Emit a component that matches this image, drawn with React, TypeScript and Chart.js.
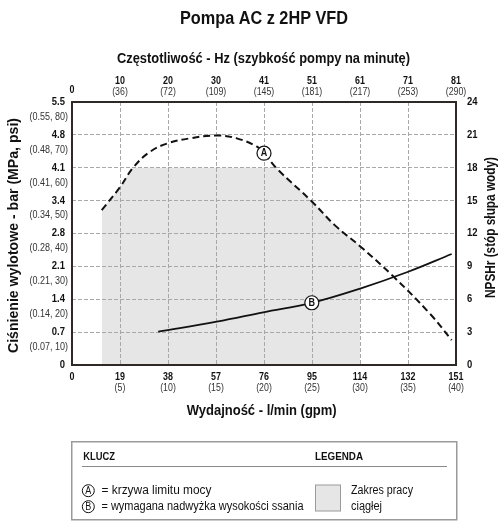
import React, { useEffect, useRef } from 'react';
import { Chart, registerables } from 'chart.js';

Chart.register(...registerables);

const FONT = '"Liberation Sans", Arial, sans-serif';

// Axis tick labels
const flowTicks = ['0', '19', '38', '57', '76', '95', '114', '132', '151'];
const gpmTicks = ['', '(5)', '(10)', '(15)', '(20)', '(25)', '(30)', '(35)', '(40)'];
const hzTicks = ['0', '10', '20', '30', '41', '51', '61', '71', '81'];
const rpmTicks = ['', '(36)', '(72)', '(109)', '(145)', '(181)', '(217)', '(253)', '(290)'];
const barTicks = ['0', '0.7', '1.4', '2.1', '2.8', '3.4', '4.1', '4.8', '5.5'];
const mpaPsiTicks = ['', '(0.07, 10)', '(0.14, 20)', '(0.21, 30)', '(0.28, 40)', '(0.34, 50)', '(0.41, 60)', '(0.48, 70)', '(0.55, 80)'];
const npshTicks = ['0', '3', '6', '9', '12', '15', '18', '21', '24'];

const FLOW_MAX = 151;
const BAR_MAX = 5.5;
const NPSH_MAX = 24;

// Curve A: power limit curve (flow l/min, pressure bar)
const powerFlow = [11.7, 18.9, 24.1, 30.7, 37.9, 46.4, 56.9, 64.8, 72.6, 75.5, 80.5, 94.3, 103.4, 113.6, 126.2, 140.8, 149.3];
const powerBar = [3.24, 3.72, 4.13, 4.46, 4.64, 4.74, 4.8, 4.74, 4.57, 4.43, 4.11, 3.42, 2.92, 2.47, 1.86, 1.07, 0.52];
const powerMarkerIndex = 9;

// Curve B: NPSHr (flow l/min, feet of water)
const npshFlow = [33.9, 56.9, 75.2, 94.3, 113.6, 132.2, 149.3];
const npshFt = [3.04, 3.95, 4.81, 5.68, 7.0, 8.51, 10.13];
const npshMarkerIndex = 3;

// Continuous duty region limits (tick indices)
const continuousMaxFlowTick = 6;
const continuousMaxBarTick = 6;

const TITLE = 'Pompa AC z 2HP VFD';
const TOP_TITLE = 'Częstotliwość - Hz (szybkość pompy na minutę)';
const BOTTOM_TITLE = 'Wydajność - l/min (gpm)';
const LEFT_TITLE = 'Ciśnienie wylotowe - bar (MPa, psi)';
const RIGHT_TITLE = 'NPSHr (stóp słupa wody)';
const KEY_HEAD = 'KLUCZ';
const LEGEND_HEAD = 'LEGENDA';
const KEY_A = '= krzywa limitu mocy';
const KEY_B = '= wymagana nadwyżka wysokości ssania';
const LEGEND_1 = 'Zakres pracy';
const LEGEND_2 = 'ciągłej';

const SHADE = '#e6e6e6';

function txt(
  ctx: CanvasRenderingContext2D,
  s: string,
  x: number,
  y: number,
  font: string,
  align: CanvasTextAlign = 'center',
  color = '#111',
  sx = 0.86,
  width?: number
) {
  ctx.save();
  ctx.font = font;
  ctx.fillStyle = color;
  ctx.textAlign = align;
  ctx.textBaseline = 'middle';
  const scale = width ? width / ctx.measureText(s).width : sx;
  ctx.translate(x, y);
  ctx.scale(scale, 1);
  ctx.fillText(s, 0, 0);
  ctx.restore();
}

function marker(ctx: CanvasRenderingContext2D, x: number, y: number, letter: string, r = 7) {
  ctx.save();
  ctx.beginPath();
  ctx.arc(x, y, r, 0, Math.PI * 2);
  ctx.fillStyle = '#fff';
  ctx.fill();
  ctx.lineWidth = 1.2;
  ctx.strokeStyle = '#111';
  ctx.stroke();
  txt(ctx, letter, x, y + 0.5, `bold 10px ${FONT}`, 'center', '#111', 0.9);
  ctx.restore();
}

const shadePlugin = {
  id: 'shade',
  beforeDraw(chart: any) {
    const meta = chart.getDatasetMeta(0);
    const line = meta.dataset;
    if (line && line.updateControlPoints) line.updateControlPoints(chart.chartArea, 'x');
    const pts = meta.data as any[];
    if (!pts.length) return;
    const ctx = chart.ctx as CanvasRenderingContext2D;
    const xs = chart.scales.x, ys = chart.scales.y;
    const bottom = chart.chartArea.bottom;
    const left = pts[0].x;
    const right = xs.getPixelForValue((continuousMaxFlowTick * FLOW_MAX) / 8);
    const top = ys.getPixelForValue((continuousMaxBarTick * BAR_MAX) / 8);
    ctx.save();
    ctx.beginPath();
    ctx.rect(left, top, right - left, bottom - top);
    ctx.clip();
    ctx.beginPath();
    ctx.moveTo(pts[0].x, pts[0].y);
    for (let i = 1; i < pts.length; i++) {
      const p = pts[i - 1], c = pts[i];
      if (p.cp2x !== undefined && c.cp1x !== undefined) ctx.bezierCurveTo(p.cp2x, p.cp2y, c.cp1x, c.cp1y, c.x, c.y);
      else ctx.lineTo(c.x, c.y);
    }
    ctx.lineTo(pts[pts.length - 1].x, bottom);
    ctx.lineTo(pts[0].x, bottom);
    ctx.closePath();
    ctx.fillStyle = SHADE;
    ctx.fill();
    ctx.restore();
  },
};

const decorPlugin = {
  id: 'decor',
  afterDraw(chart: any) {
    const ctx = chart.ctx as CanvasRenderingContext2D;
    const { left, right, top, bottom } = chart.chartArea;
    const xs = chart.scales.x, ys = chart.scales.y, y2 = chart.scales.y2;

    // frame
    ctx.save();
    ctx.strokeStyle = '#2e2926';
    ctx.lineWidth = 2;
    ctx.strokeRect(left, top, right - left, bottom - top);
    ctx.restore();

    // markers
    const mA = chart.getDatasetMeta(0).data[powerMarkerIndex];
    const mB = chart.getDatasetMeta(1).data[npshMarkerIndex];
    if (mA) marker(ctx, mA.x, mA.y, 'A');
    if (mB) marker(ctx, mB.x, mB.y, 'B');

    const bold = `bold 10.5px ${FONT}`;
    const reg = `10px ${FONT}`;

    for (let i = 0; i < 9; i++) {
      const px = xs.getPixelForValue((i * FLOW_MAX) / 8);
      txt(ctx, flowTicks[i], px, bottom + 12, bold, 'center', '#111', 0.85);
      if (gpmTicks[i]) txt(ctx, gpmTicks[i], px, bottom + 23, reg, 'center', '#333', 0.88);
      if (rpmTicks[i]) {
        txt(ctx, hzTicks[i], px, top - 21, bold, 'center', '#111', 0.85);
        txt(ctx, rpmTicks[i], px, top - 10, reg, 'center', '#333', 0.88);
      } else {
        txt(ctx, hzTicks[i], px, top - 12, bold, 'center', '#111', 0.85);
      }
      const py = ys.getPixelForValue((i * BAR_MAX) / 8);
      txt(ctx, barTicks[i], left - 7, py, bold, 'right', '#111', 0.9);
      if (mpaPsiTicks[i]) txt(ctx, mpaPsiTicks[i], left - 4, py + 15, reg, 'right', '#333', 0.9);
      const py2 = y2.getPixelForValue((i * NPSH_MAX) / 8);
      txt(ctx, npshTicks[i], right + 11, py2, bold, 'left', '#111', 0.9);
    }

    // titles
    txt(ctx, TITLE, 264, 19, `bold 18px ${FONT}`, 'center', '#111', 0, 168);
    txt(ctx, TOP_TITLE, 263.5, 59.5, `bold 14px ${FONT}`, 'center', '#111', 0, 293);
    txt(ctx, BOTTOM_TITLE, 261.7, 411.5, `bold 14px ${FONT}`, 'center', '#111', 0, 150);
    ctx.save();
    ctx.translate(13.5, 235.5);
    ctx.rotate(-Math.PI / 2);
    txt(ctx, LEFT_TITLE, 0, 0, `bold 15px ${FONT}`, 'center', '#111', 0, 235);
    ctx.restore();
    ctx.save();
    ctx.translate(491.5, 227.5);
    ctx.rotate(-Math.PI / 2);
    txt(ctx, RIGHT_TITLE, 0, 0, `bold 14px ${FONT}`, 'center', '#111', 0, 141);
    ctx.restore();

    // key / legend box
    ctx.save();
    ctx.strokeStyle = '#9a9a9a';
    ctx.lineWidth = 1.5;
    ctx.strokeRect(71.75, 441.75, 385, 78);
    ctx.lineWidth = 1;
    ctx.strokeStyle = '#8a8a8a';
    ctx.beginPath();
    ctx.moveTo(82, 466.5);
    ctx.lineTo(447, 466.5);
    ctx.stroke();
    txt(ctx, KEY_HEAD, 83.3, 457, `bold 11px ${FONT}`, 'left', '#111', 0, 31.7);
    txt(ctx, LEGEND_HEAD, 315, 457, `bold 11px ${FONT}`, 'left', '#111', 0, 48);
    ctx.strokeStyle = '#111';
    ctx.lineWidth = 1;
    ctx.beginPath();
    ctx.arc(88.3, 490.7, 6, 0, Math.PI * 2);
    ctx.stroke();
    txt(ctx, 'A', 88.3, 491.2, `10px ${FONT}`, 'center', '#111', 0.9);
    ctx.beginPath();
    ctx.arc(88.3, 506.7, 6, 0, Math.PI * 2);
    ctx.stroke();
    txt(ctx, 'B', 88.3, 507.2, `10px ${FONT}`, 'center', '#111', 0.9);
    txt(ctx, KEY_A, 101.5, 490.7, `12px ${FONT}`, 'left', '#111', 0, 110);
    txt(ctx, KEY_B, 101.5, 506.7, `12px ${FONT}`, 'left', '#111', 0, 202);
    ctx.fillStyle = SHADE;
    ctx.fillRect(315.5, 485, 25, 26);
    ctx.strokeStyle = '#9a9a9a';
    ctx.strokeRect(315.5, 485, 25, 26);
    txt(ctx, LEGEND_1, 351, 490.7, `12px ${FONT}`, 'left', '#111', 0, 62);
    txt(ctx, LEGEND_2, 351, 506.7, `12px ${FONT}`, 'left', '#111', 0, 31);
    ctx.restore();
  },
};

const gridOpts = { color: '#a8a8a8', lineWidth: 1, drawTicks: false };

export default function App() {
  const ref = useRef<HTMLCanvasElement>(null);
  useEffect(() => {
    document.body.style.margin = '0';
    const canvas = ref.current!;
    const evenTicks = (max: number) => (s: any) => {
      s.ticks = Array.from({ length: 9 }, (_, i) => ({ value: (i * max) / 8 }));
    };
    const chart = new Chart(canvas, {
      type: 'line',
      data: {
        datasets: [
          {
            data: powerFlow.map((x, i) => ({ x, y: powerBar[i] })),
            xAxisID: 'x',
            yAxisID: 'y',
            borderColor: '#111',
            borderWidth: 2,
            borderDash: [7, 4],
            tension: 0.4,
            pointRadius: 0,
            fill: false,
          },
          {
            data: npshFlow.map((x, i) => ({ x, y: npshFt[i] })),
            xAxisID: 'x',
            yAxisID: 'y2',
            borderColor: '#111',
            borderWidth: 1.8,
            tension: 0.4,
            pointRadius: 0,
            fill: false,
          },
        ],
      },
      options: {
        animation: false,
        responsive: false,
        events: [],
        layout: { padding: { left: 72, right: 45, top: 102, bottom: 158 } },
        plugins: { legend: { display: false }, tooltip: { enabled: false }, title: { display: false } },
        scales: {
          x: {
            type: 'linear',
            min: 0,
            max: FLOW_MAX,
            afterBuildTicks: evenTicks(FLOW_MAX),
            ticks: { display: false },
            grid: gridOpts,
            border: { display: false, dash: [4, 2] },
          },
          y: {
            type: 'linear',
            position: 'left',
            min: 0,
            max: BAR_MAX,
            afterBuildTicks: evenTicks(BAR_MAX),
            ticks: { display: false },
            grid: gridOpts,
            border: { display: false, dash: [4, 2] },
          },
          y2: {
            type: 'linear',
            position: 'right',
            min: 0,
            max: NPSH_MAX,
            display: false,
          },
        },
      } as any,
      plugins: [shadePlugin, decorPlugin],
    });
    return () => chart.destroy();
  }, []);
  return (
    <canvas
      ref={ref}
      width={501}
      height={523}
      style={{ display: 'block', position: 'fixed', left: 0, top: 0, width: 501, height: 523 }}
    />
  );
}
